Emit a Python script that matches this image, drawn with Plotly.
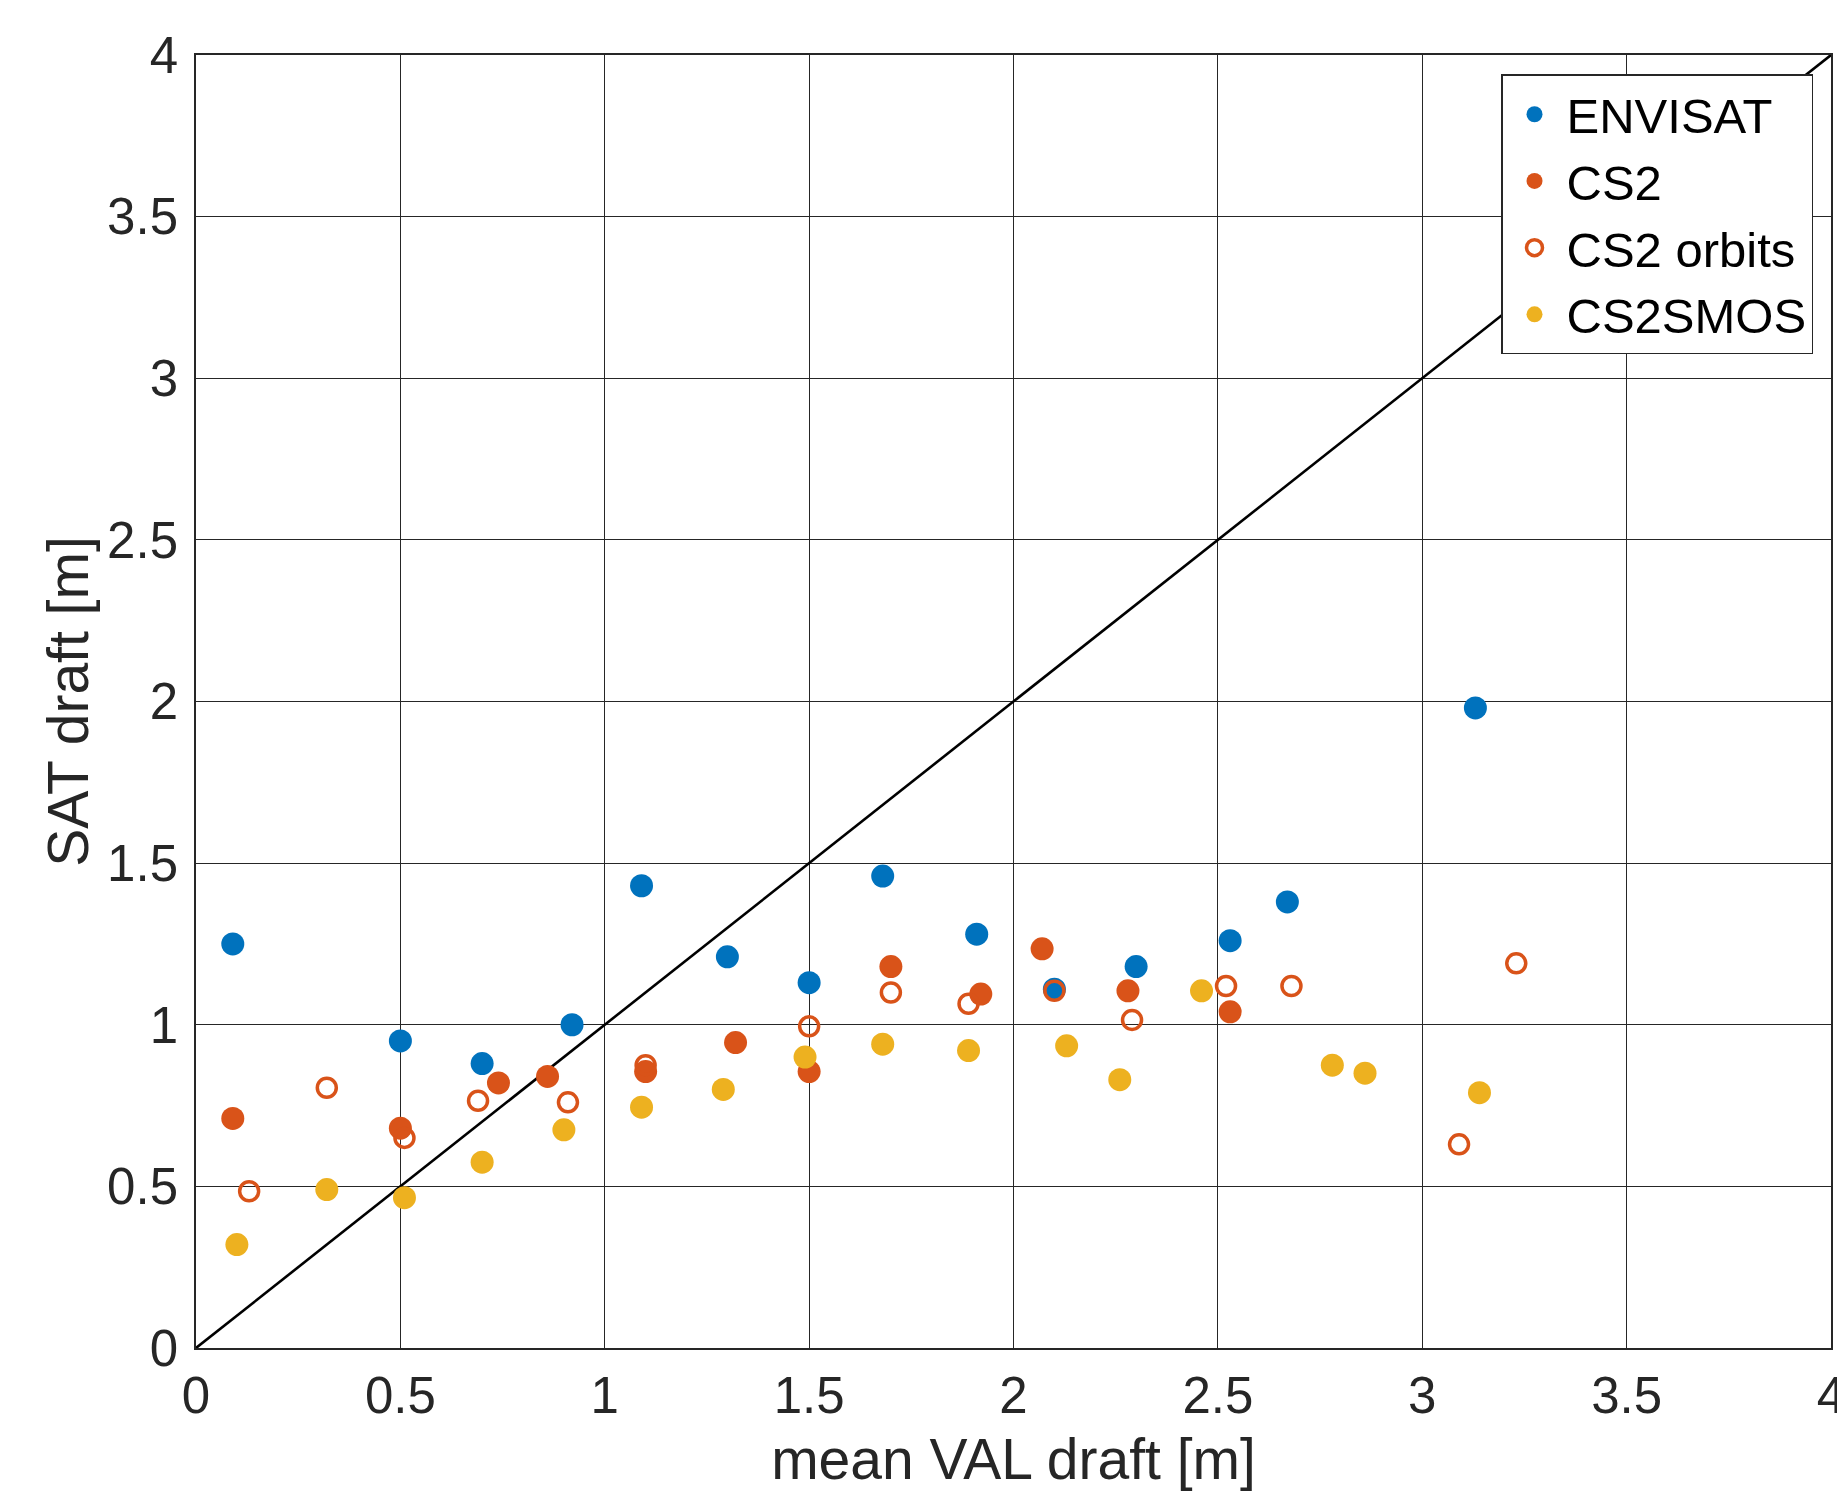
import plotly.graph_objects as go

# ENVISAT
env_x = [0.09, 0.50, 0.70, 0.92, 1.09, 1.30, 1.50, 1.68, 1.91, 2.10, 2.30, 2.53, 2.67, 3.13]
env_y = [1.25, 0.95, 0.88, 1.00, 1.43, 1.21, 1.13, 1.46, 1.28, 1.11, 1.18, 1.26, 1.38, 1.98]

# CS2 (filled)
cs2_x = [0.09, 0.50, 0.74, 0.86, 1.10, 1.32, 1.50, 1.70, 1.92, 2.07, 2.28, 2.53]
cs2_y = [0.71, 0.68, 0.82, 0.84, 0.855, 0.945, 0.855, 1.18, 1.095, 1.235, 1.105, 1.04]

# CS2 orbits (open)
orb_x = [0.13, 0.32, 0.51, 0.69, 0.91, 1.10, 1.50, 1.70, 1.89, 2.10, 2.29, 2.52, 2.68, 3.09, 3.23]
orb_y = [0.485, 0.805, 0.65, 0.765, 0.76, 0.875, 0.995, 1.10, 1.065, 1.105, 1.015, 1.12, 1.12, 0.63, 1.19]

# CS2SMOS
smos_x = [0.10, 0.32, 0.51, 0.70, 0.90, 1.09, 1.29, 1.49, 1.68, 1.89, 2.13, 2.26, 2.46, 2.78, 2.86, 3.14]
smos_y = [0.32, 0.49, 0.465, 0.575, 0.675, 0.745, 0.80, 0.90, 0.94, 0.92, 0.935, 0.83, 1.105, 0.875, 0.85, 0.79]

line_x = [0, 4]
line_y = [0, 4]
ticks = [0, 0.5, 1, 1.5, 2, 2.5, 3, 3.5, 4]
tick_text = ["0", "0.5", "1", "1.5", "2", "2.5", "3", "3.5", "4"]

BLUE = "#0072BD"
ORANGE = "#D95319"
YELLOW = "#EDB120"
FONT = "Liberation Sans, Arial, Helvetica, sans-serif"
TXT = "#262626"

fig = go.Figure()
fig.add_trace(go.Scatter(x=line_x, y=line_y, mode="lines",
                         line=dict(color="black", width=2.6), showlegend=False,
                         hoverinfo="skip", cliponaxis=False))
fig.add_trace(go.Scatter(x=env_x, y=env_y, mode="markers", name="ENVISAT",
                         marker=dict(color=BLUE, size=23, line=dict(width=0))))
fig.add_trace(go.Scatter(x=cs2_x, y=cs2_y, mode="markers", name="CS2",
                         marker=dict(color=ORANGE, size=23, line=dict(width=0))))
fig.add_trace(go.Scatter(x=orb_x, y=orb_y, mode="markers", name="CS2 orbits",
                         marker=dict(symbol="circle-open", color=ORANGE, size=19,
                                     line=dict(width=3.5, color=ORANGE))))
fig.add_trace(go.Scatter(x=smos_x, y=smos_y, mode="markers", name="CS2SMOS",
                         marker=dict(color=YELLOW, size=23, line=dict(width=0))))

axis_common = dict(
    range=[0, 4], tickvals=ticks, ticktext=tick_text,
    showgrid=True, gridcolor=TXT, gridwidth=1.4,
    showline=True, linecolor=TXT, linewidth=1.6, mirror=True,
    zeroline=False, ticks="", automargin=False, ticklabeloverflow="allow",
    tickfont=dict(family=FONT, size=51, color=TXT),
)

fig.update_layout(
    width=1837, height=1483,
    margin=dict(l=188, r=14, t=47, b=143),
    paper_bgcolor="white", plot_bgcolor="white",
    font=dict(family=FONT, color=TXT),
    xaxis=dict(**axis_common, ticklabelstandoff=2,
               title=dict(text="mean VAL draft [m]", font=dict(family=FONT, size=57, color=TXT),
                          standoff=20)),
    yaxis=dict(**axis_common, ticklabelstandoff=6,
               title=dict(text="SAT draft [m]", font=dict(family=FONT, size=57, color=TXT),
                          standoff=0)),
    legend=dict(x=0.989, y=0.985, xanchor="right", yanchor="top",
                bgcolor="white", bordercolor=TXT, borderwidth=1.5,
                font=dict(family=FONT, size=49, color="black"),
                itemsizing="trace", itemwidth=54, tracegroupgap=0),
    showlegend=True,
)

fig.write_html("out.html")
